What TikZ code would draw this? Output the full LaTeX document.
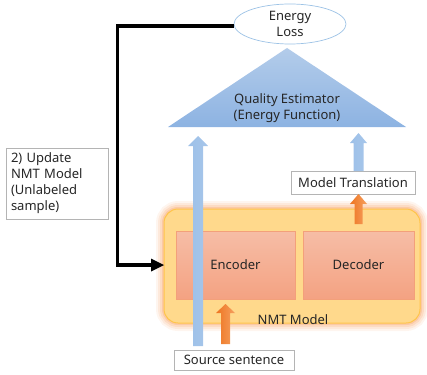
\documentclass[tikz,border=0pt]{standalone}
\usepackage{fontspec}
\setmainfont{Noto Sans}
\usetikzlibrary{shapes.geometric}
\definecolor{lossline}{HTML}{9DC3E6}
\definecolor{qetop}{HTML}{B3CCEA}
\definecolor{qebot}{HTML}{8DB3E2}
\definecolor{bluearr}{HTML}{9DC0E8}
\definecolor{orangeA}{HTML}{F5A060}
\definecolor{orangeB}{HTML}{EE7420}
\definecolor{nmtfill}{HTML}{FFD98C}
\definecolor{nmtline}{HTML}{FFC54A}
\definecolor{glow}{HTML}{F8A060}
\definecolor{boxtop}{HTML}{F6BDA6}
\definecolor{boxbot}{HTML}{F4A282}
\definecolor{boxline}{HTML}{F3A07A}
\definecolor{grayline}{HTML}{B4B4B4}
\tikzset{
  txt/.style={font=\fontsize{13}{16}\selectfont, text=black!85},
  labelbox/.style={txt, draw=grayline, line width=0.8pt, fill=white, inner sep=0pt},
  modbox/.style={txt, draw=boxline, line width=0.8pt, top color=boxtop, bottom color=boxbot, minimum width=119pt, minimum height=68pt},
  bluefill/.style={left color=bluearr, right color=bluearr!90!white, draw=none},
  orangefill/.style={left color=orangeB, right color=orangeA, draw=none},
}
\begin{document}
\begin{tikzpicture}[x=1pt,y=-1pt]
\useasboundingbox (0,0) rectangle (427,374);
% NMT glow and box
\foreach \w/\o in {16/0.1,12/0.14,8/0.2,4/0.3}{
  \draw[glow, line width=\w pt, opacity=\o, rounded corners=14pt] (164,209) rectangle (420,323);
}
\draw[nmtline, fill=nmtfill, line width=1pt, rounded corners=14pt] (164,209) rectangle (420,323);
\node[txt] (nmt) at (293,320) {NMT Model};
\node[modbox] (enc) at (235.5,265) {Encoder};
\node[modbox, minimum width=111pt] (dec) at (358.5,265) {Decoder};
% Quality estimator triangle
\shade[top color=qetop, bottom color=qebot] (287,48) -- (406,127) -- (168,127) -- cycle;
\node[txt, align=center] (qe) at (287,108) {Quality Estimator\\(Energy Function)};
% Energy loss
\node[txt, ellipse, draw=lossline, line width=0.7pt, fill=white, minimum width=112pt, minimum height=40pt, align=center, inner sep=0pt] (loss) at (290,24) {Energy\\Loss};
% label boxes
\node[labelbox, minimum width=124pt, minimum height=23pt] (mt) at (353,182.5) {Model Translation};
\node[labelbox, minimum width=120pt, minimum height=20pt] (src) at (234,360) {Source sentence};
\node[labelbox, minimum width=102pt, minimum height=71pt, align=left, text width=92pt, inner xsep=5pt] (upd) at (57,183.5) {2) Update\\NMT Model\\(Unlabeled\\sample)};
% blue arrows
\shade[bluefill] (193,346) -- (193,146) -- (188,146) -- (198,136) -- (208,146) -- (203,146) -- (203,346) -- cycle;
\shade[bluefill] (353.5,171) -- (353.5,143) -- (350,143) -- (358.5,133) -- (367,143) -- (363.5,143) -- (363.5,171) -- cycle;
% orange arrows
\shade[orangefill] (354.5,224) -- (354.5,204) -- (350,204) -- (358.5,194) -- (367,204) -- (362.5,204) -- (362.5,224) -- cycle;
\shade[orangefill] (221,344) -- (221,313) -- (216,313) -- (225.5,304) -- (235,313) -- (230,313) -- (230,344) -- cycle;
% black feedback connector
\draw[line width=3.5pt, line join=miter] (loss.west |- 0,26) -- (117.5,26) -- (117.5,265) -- (152,265);
\fill (151,258.5) -- (164,265) -- (151,271.5) -- cycle;
\end{tikzpicture}
\end{document}
